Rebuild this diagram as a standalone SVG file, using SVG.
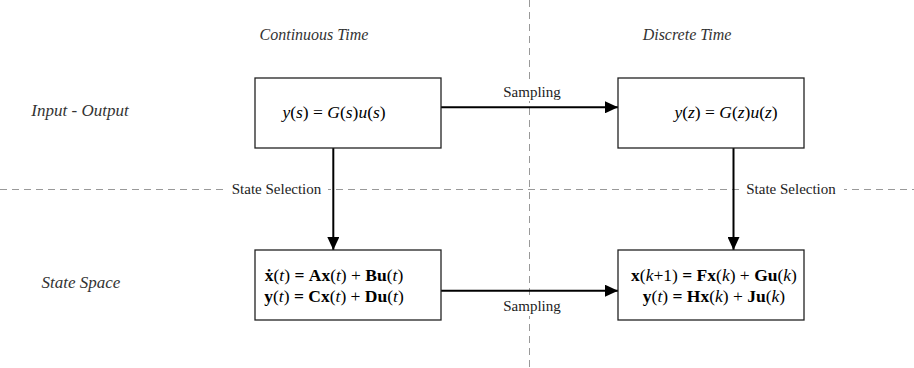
<svg xmlns="http://www.w3.org/2000/svg" width="914" height="368" viewBox="0 0 914 368">
<style>
.grid{stroke:#999;stroke-width:1;stroke-dasharray:7 5;fill:none}
.box{fill:#fff;stroke:#222;stroke-width:1.3}
.conn{stroke:#000;stroke-width:2;fill:none;marker-end:url(#ah)}
.lbl{font-family:"Liberation Serif","Times New Roman",Times,"DejaVu Serif",serif;font-size:15px;fill:#222}
.hdr{font-family:"Liberation Serif","Times New Roman",Times,"DejaVu Serif",serif;font-size:16px;font-style:italic;fill:#333}
.side{font-family:"Liberation Serif","Times New Roman",Times,"DejaVu Serif",serif;font-size:17px;font-style:italic;fill:#333}
.eq{font-family:"Liberation Serif","Times New Roman",Times,"DejaVu Serif",serif;font-size:17.5px;fill:#000}
.i{font-style:italic}
.b{font-weight:bold}
.bg{fill:#fff}
</style>
<defs>
<marker id="ah" markerWidth="14" markerHeight="12" refX="13" refY="6" orient="auto" markerUnits="userSpaceOnUse">
<path d="M0,0 L13,6 L0,12 Z" fill="#000"/>
</marker>
</defs>
<g id="gridlines">
<line class="grid" x1="529.5" y1="0" x2="529.5" y2="368"/>
<line class="grid" x1="0" y1="189.5" x2="914" y2="189.5"/>
</g>
<g id="headers">
<text class="hdr" x="314" y="40" text-anchor="middle">Continuous Time</text>
<text class="hdr" x="687" y="40" text-anchor="middle">Discrete Time</text>
<text class="side" x="80" y="116" text-anchor="middle">Input - Output</text>
<text class="side" x="81" y="288" text-anchor="middle">State Space</text>
</g>
<g id="connectors">
<line class="conn" x1="441" y1="107.3" x2="618" y2="107.3"/>
<line class="conn" x1="441" y1="290.7" x2="618" y2="290.7"/>
<line class="conn" x1="333.3" y1="148" x2="333.3" y2="250"/>
<line class="conn" x1="733.5" y1="148" x2="733.5" y2="250"/>
<rect class="bg" x="499" y="83" width="66" height="18"/>
<text class="lbl" x="532" y="97" text-anchor="middle">Sampling</text>
<rect class="bg" x="499" y="297" width="66" height="19"/>
<text class="lbl" x="532" y="311" text-anchor="middle">Sampling</text>
<rect class="bg" x="224" y="180" width="104" height="19"/>
<text class="lbl" x="276.5" y="194" text-anchor="middle">State Selection</text>
<rect class="bg" x="740" y="180" width="104" height="19"/>
<text class="lbl" x="791" y="194" text-anchor="middle">State Selection</text>
</g>
<g id="node-io-ct">
<rect class="box" x="255" y="78" width="186" height="70"/>
<text class="eq" x="334" y="118" text-anchor="middle"><tspan class="i">y</tspan>(<tspan class="i">s</tspan>) = <tspan class="i">G</tspan>(<tspan class="i">s</tspan>)<tspan class="i">u</tspan>(<tspan class="i">s</tspan>)</text>
</g>
<g id="node-io-dt">
<rect class="box" x="618" y="78" width="186" height="70"/>
<text class="eq" x="726" y="118" text-anchor="middle"><tspan class="i">y</tspan>(<tspan class="i">z</tspan>) = <tspan class="i">G</tspan>(<tspan class="i">z</tspan>)<tspan class="i">u</tspan>(<tspan class="i">z</tspan>)</text>
</g>
<g id="node-ss-ct">
<rect class="box" x="255" y="250" width="186" height="70"/>
<text class="eq" x="334" y="281" text-anchor="middle"><tspan class="b">ẋ</tspan>(<tspan class="i">t</tspan>) <tspan class="b">=</tspan> <tspan class="b">Ax</tspan>(<tspan class="i">t</tspan>) + <tspan class="b">Bu</tspan>(<tspan class="i">t</tspan>)</text>
<text class="eq" x="334" y="302" text-anchor="middle"><tspan class="b">y</tspan>(<tspan class="i">t</tspan>) <tspan class="b">=</tspan> <tspan class="b">Cx</tspan>(<tspan class="i">t</tspan>) + <tspan class="b">Du</tspan>(<tspan class="i">t</tspan>)</text>
</g>
<g id="node-ss-dt">
<rect class="box" x="618" y="250" width="186" height="70"/>
<text class="eq" x="714" y="281" text-anchor="middle"><tspan class="b">x</tspan>(<tspan class="i">k</tspan>+1) <tspan class="b">=</tspan> <tspan class="b">Fx</tspan>(<tspan class="i">k</tspan>) + <tspan class="b">Gu</tspan>(<tspan class="i">k</tspan>)</text>
<text class="eq" x="714" y="302" text-anchor="middle"><tspan class="b">y</tspan>(<tspan class="i">t</tspan>) <tspan class="b">=</tspan> <tspan class="b">Hx</tspan>(<tspan class="i">k</tspan>) + <tspan class="b">Ju</tspan>(<tspan class="i">k</tspan>)</text>
</g>
</svg>
